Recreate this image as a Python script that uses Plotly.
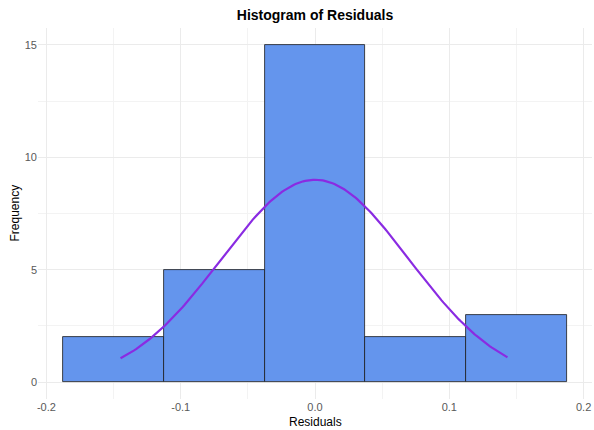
import numpy as np
import plotly.graph_objects as go

# Histogram bins of the residuals (left edges) and their counts
bin_left = [-0.1875, -0.1125, -0.0375, 0.0375, 0.1125]
bin_width = 0.075
counts = [2, 5, 15, 2, 3]

# Fitted normal curve parameters
fit_mean = 0.0
fit_sd = 0.070
fit_peak = 9.0
fit_from, fit_to = -0.1448, 0.1433

x_ticks = [-0.2, -0.1, 0.0, 0.1, 0.2]
x_tick_text = ["-0.2", "-0.1", "0.0", "0.1", "0.2"]
y_ticks = [0, 5, 10, 15]

centers = [b + bin_width / 2 for b in bin_left]
cx = np.linspace(fit_from, fit_to, 200)
cy = fit_peak * np.exp(-0.5 * ((cx - fit_mean) / fit_sd) ** 2)

fig = go.Figure()
fig.add_trace(go.Bar(
    x=centers, y=counts, width=[bin_width] * len(counts),
    marker=dict(color="#6495ED", line=dict(color="#1a1a1a", width=0.8)),
    showlegend=False,
))
fig.add_trace(go.Scatter(
    x=cx, y=cy, mode="lines",
    line=dict(color="#8A2BE2", width=2.2),
    showlegend=False,
))

grid = "#EBEBEB"
FONT = "Liberation Sans, Arial, sans-serif"
tick_color = "#595959"

# plot area in pixels: x 38..592, y 28..399
plot_l, plot_r, plot_t, plot_b = 38, 592, 28, 399
pw, ph = plot_r - plot_l, plot_b - plot_t

fig.update_layout(
    template="none",
    width=594, height=430,
    margin=dict(l=plot_l, r=594 - plot_r, t=plot_t, b=430 - plot_b),
    plot_bgcolor="white", paper_bgcolor="white",
    bargap=0,
    font=dict(family=FONT, color=tick_color),
    title=dict(
        text="<b>Histogram of Residuals</b>",
        x=315 / 594, xanchor="center",
        y=1 - 15 / 430, yanchor="middle", yref="container",
        font=dict(size=14, color="black", family=FONT),
    ),
    xaxis=dict(
        range=[-0.20625, 0.20625],
        tickvals=x_ticks, ticktext=x_tick_text,
        showgrid=True, gridcolor=grid, gridwidth=1,
        zeroline=False, showline=False, ticks="",
        tickfont=dict(family=FONT, size=11, color=tick_color),
        minor=dict(showgrid=True, gridcolor="#F3F3F3", gridwidth=0.6,
                   tick0=-0.15, dtick=0.1),
    ),
    yaxis=dict(
        range=[-0.75, 15.75],
        tickvals=y_ticks,
        showgrid=True, gridcolor=grid, gridwidth=1,
        zeroline=False, showline=False, ticks="",
        tickfont=dict(family=FONT, size=11, color=tick_color),
        minor=dict(showgrid=True, gridcolor="#F3F3F3", gridwidth=0.6,
                   tick0=2.5, dtick=5),
    ),
    annotations=[
        dict(text="Residuals", x=(315 - plot_l) / pw, y=(plot_b - 422) / ph,
             xref="paper", yref="paper", xanchor="center", yanchor="middle",
             showarrow=False, font=dict(size=12, color="black", family=FONT)),
        dict(text="Frequency", x=(14 - plot_l) / pw, y=0.5, textangle=-90,
             xref="paper", yref="paper", xanchor="center", yanchor="middle",
             showarrow=False, font=dict(size=12, color="black", family=FONT)),
    ],
)

fig.write_html("out.html")
